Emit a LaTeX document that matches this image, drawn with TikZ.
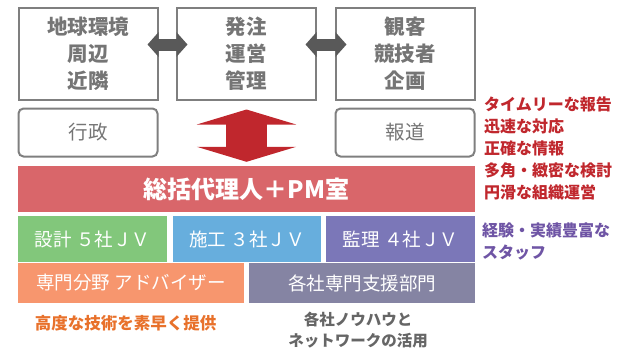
\documentclass[tikz,border=0pt]{standalone}
\usepackage{fontspec}
\setmainfont{Noto Sans CJK JP}
\usetikzlibrary{arrows.meta}
\definecolor{boxgray}{HTML}{7F7F7F}
\definecolor{topgray}{HTML}{757575}
\definecolor{arrgray}{HTML}{595959}
\definecolor{arrred}{HTML}{C0272D}
\definecolor{barred}{HTML}{D9666A}
\definecolor{cgreen}{HTML}{82C77B}
\definecolor{cblue}{HTML}{67AEDD}
\definecolor{cpurple}{HTML}{7B77B8}
\definecolor{corange}{HTML}{F7966E}
\definecolor{cslate}{HTML}{8584A3}
\definecolor{tred}{HTML}{C0272D}
\definecolor{tpurple}{HTML}{6F55A5}
\definecolor{torange}{HTML}{E8712B}
\definecolor{tgray}{HTML}{666666}
\tikzset{
  topbox/.style={draw=boxgray, line width=2pt, minimum width=139pt, minimum height=92pt,
    inner sep=0pt, align=center, text=topgray,
    font=\fontsize{20.5}{27}\selectfont\bfseries},
  roundbox/.style={draw=boxgray, line width=2pt, rounded corners=5pt, minimum width=139pt,
    minimum height=48pt, inner sep=0pt, text=topgray, font=\fontsize{19.5}{22}\selectfont},
  fillbox/.style={inner sep=0pt, text=white, font=\fontsize{18.5}{21}\selectfont},
  garrow/.style={draw=arrgray, line width=12pt, {Triangle[length=11pt,width=24pt]}-{Triangle[length=11pt,width=24pt]}},
  rarrow/.style={draw=arrred, line width=41pt, {Triangle[length=15pt,width=99pt]}-{Triangle[length=15pt,width=99pt]}},
  sidetext/.style={anchor=west, align=left, inner sep=0pt, font=\fontsize{16}{22}\selectfont\bfseries}
}
\begin{document}
\begin{tikzpicture}[x=1pt,y=-1pt]
\useasboundingbox (0,0) rectangle (617,354);
% top boxes
\node[topbox] (b1) at (88,53.5) {地球環境\\周辺\\近隣};
\node[topbox] (b2) at (246,53.5) {発注\\運営\\管理};
\node[topbox] (b3) at (405,53.5) {観客\\競技者\\企画};
\node[roundbox] (gy) at (88,132.5) {行政};
\node[roundbox] (hd) at (405,132.5) {報道};
% coloured bars
\node[fillbox, fill=barred, minimum width=457pt, minimum height=46pt,
  font=\fontsize{24}{26}\selectfont\bfseries] (pm) at (246.5,189) {総括代理人＋PM室};
\node[fillbox, fill=cgreen, minimum width=149pt, minimum height=46pt] (sk) at (92.5,239) {設計 ５社ＪＶ};
\node[fillbox, fill=cblue, minimum width=148pt, minimum height=46pt] (sc) at (247,239) {施工 ３社ＪＶ};
\node[fillbox, fill=cpurple, minimum width=149pt, minimum height=46pt] (kr) at (400.5,239) {監理 ４社ＪＶ};
\node[fillbox, fill=corange, minimum width=226pt, minimum height=40pt] (sm) at (131,283) {専門分野 アドバイザー};
\node[fillbox, fill=cslate, minimum width=226pt, minimum height=40pt] (ks) at (362,283) {各社専門支援部門};
% arrows
\draw[garrow] ([xshift=-11pt,yshift=9pt]b1.east) -- ([xshift=12pt,yshift=9pt]b2.west);
\draw[garrow] ([xshift=-11pt,yshift=9pt]b2.east) -- ([xshift=12pt,yshift=9pt]b3.west);
\draw[rarrow] ([yshift=-9pt]pm.north |- b2.south) -- ([yshift=4pt]pm.north);
% side texts
\node[sidetext, text=tred] (rt) at (484,148) {タイムリーな報告\\迅速な対応\\正確な情報\\多角・緻密な検討\\円滑な組織運営};
\node[sidetext, text=tpurple] (pt) at (482,241) {経験・実績豊富な\\スタッフ};
\node[inner sep=0pt, text=torange, font=\fontsize{16.5}{20}\selectfont\bfseries] (ot) at (125.5,323) {高度な技術を素早く提供};
\node[inner sep=0pt, align=center, text=tgray, font=\fontsize{15.5}{20.5}\selectfont\bfseries] (gt) at (358,330) {各社ノウハウと\\ネットワークの活用};
\end{tikzpicture}
\end{document}
